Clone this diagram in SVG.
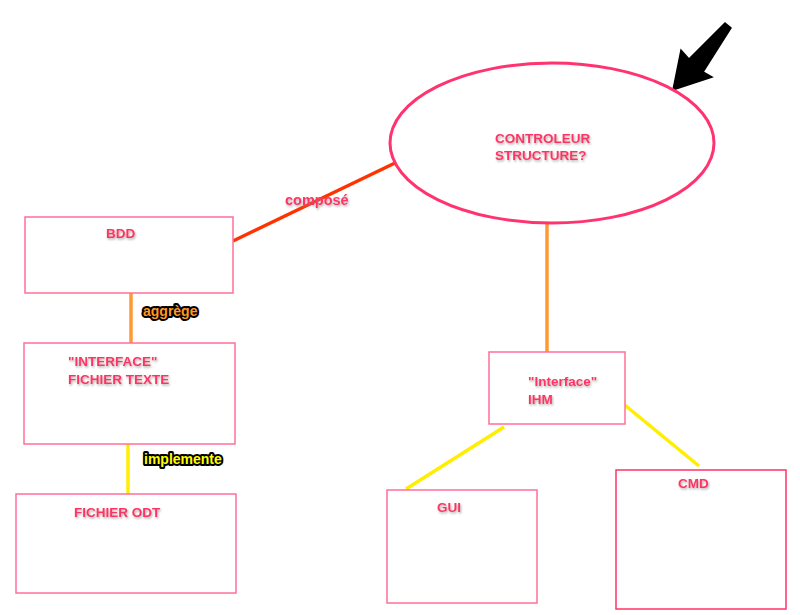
<svg xmlns="http://www.w3.org/2000/svg" width="800" height="615" viewBox="0 0 800 615">
<defs>
<filter id="sh" x="-10%" y="-30%" width="130%" height="170%">
<feDropShadow dx="1" dy="1.5" stdDeviation="0.8" flood-color="#888" flood-opacity="0.7"/>
</filter>
</defs>
<style>
.t{font-family:"Liberation Sans",Arial,sans-serif;font-weight:bold;font-size:13.5px;fill:#ff3366;filter:url(#sh)}
.box{fill:#fff;stroke:#ff6f99;stroke-width:1.5}
.lbl{font-family:"Liberation Sans",Arial,sans-serif;font-weight:bold;font-size:14px;stroke:#000;stroke-width:4;stroke-linejoin:round;paint-order:stroke}
.c{fill:none;stroke-width:3.5}
</style>
<rect width="800" height="615" fill="#fff"/>
<g id="connectors">
<line class="c" x1="233" y1="241" x2="395" y2="163" stroke="#ff3300"/>
<line class="c" x1="131" y1="292" x2="131" y2="343" stroke="#ff9933"/>
<line class="c" x1="128" y1="444" x2="128" y2="495" stroke="#ffee00"/>
<line class="c" x1="547" y1="223" x2="547" y2="352" stroke="#ff9933"/>
<line class="c" x1="504" y1="427" x2="406" y2="489" stroke="#ffee00"/>
<line class="c" x1="621" y1="402" x2="699" y2="466" stroke="#ffee00"/>
<text class="t" x="285" y="205" style="font-size:14.5px">composé</text>
<text class="lbl" x="143" y="316" fill="#ff9922">aggrège</text>
<text class="lbl" x="144" y="464" fill="#ffff00">implemente</text>
</g>
<g id="arrow">
<polygon points="725,23 731,28 703,72 712,77 673,90 681,50 689,59" fill="#000" stroke="#000" stroke-width="1.5" stroke-linejoin="miter"/>
</g>
<g id="controleur">
<ellipse cx="552" cy="143" rx="162" ry="80" fill="#fff" stroke="#ff3370" stroke-width="3"/>
<text class="t" x="495" y="143">CONTROLEUR</text>
<text class="t" x="495" y="160">STRUCTURE?</text>
</g>
<g id="bdd">
<rect class="box" x="25" y="217" width="208" height="76"/>
<text class="t" x="106" y="238">BDD</text>
</g>
<g id="interface-fichier">
<rect class="box" x="24" y="343" width="211" height="101"/>
<text class="t" x="68" y="366">"INTERFACE"</text>
<text class="t" x="68" y="384">FICHIER TEXTE</text>
</g>
<g id="fichier-odt">
<rect class="box" x="16" y="494" width="220" height="99"/>
<text class="t" x="74" y="517">FICHIER ODT</text>
</g>
<g id="ihm">
<rect class="box" x="489" y="352" width="136" height="72"/>
<text class="t" x="528" y="386">"Interface"</text>
<text class="t" x="528" y="404">IHM</text>
</g>
<g id="gui">
<rect class="box" x="387" y="490" width="150" height="113"/>
<text class="t" x="437" y="512">GUI</text>
</g>
<g id="cmd">
<rect class="box" x="616" y="470" width="170" height="139" style="stroke:#ff3366"/>
<text class="t" x="678" y="488">CMD</text>
</g>
</svg>
